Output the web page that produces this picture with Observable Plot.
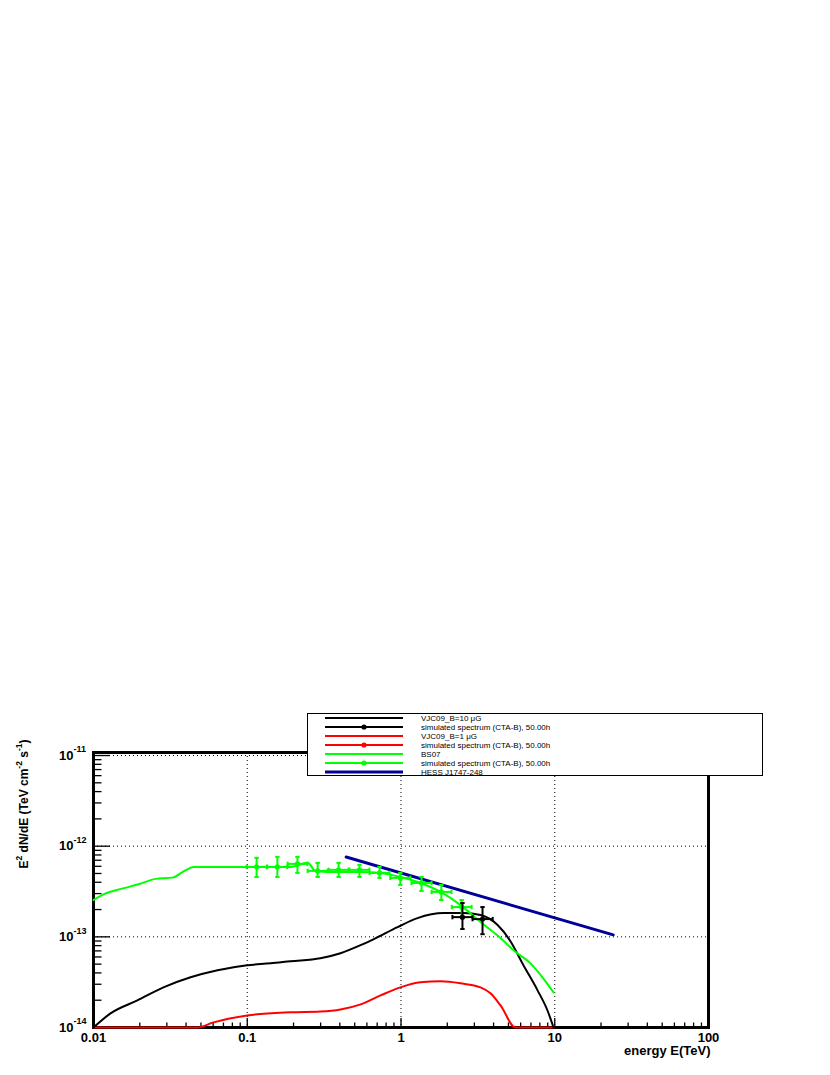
<!DOCTYPE html>
<html>
<head>
<meta charset="utf-8">
<script src="https://cdn.jsdelivr.net/npm/d3@7"></script>
<script src="https://cdn.jsdelivr.net/npm/@observablehq/plot@0.6"></script>
<style>
  html, body { margin: 0; padding: 0; background: white; }
  svg { display: block; }
</style>
</head>
<body>
<script>
// ---------- data ----------
// Model curves: energy (TeV) and E^2 dN/dE (TeV cm^-2 s^-1)
const bs07E = [0.01, 0.0118, 0.0153, 0.0199, 0.0253, 0.0327, 0.0380, 0.0450, 0.1, 0.191, 0.247, 0.278, 0.348, 0.546, 0.736, 0.99, 1.34, 1.81, 2.44, 3.29, 4.44, 5.39, 6.95, 8.32, 9.82];
const bs07F = [2.55e-13, 2.98e-13, 3.40e-13, 3.82e-13, 4.36e-13, 4.50e-13, 5.20e-13, 5.91e-13, 5.91e-13, 5.9e-13, 6.55e-13, 5.34e-13, 5.2e-13, 5.2e-13, 5.07e-13, 4.58e-13, 3.93e-13, 3.13e-13, 2.24e-13, 1.46e-13, 9.7e-14, 7.1e-14, 5.1e-14, 3.58e-14, 2.44e-14];

const b10E = [0.01, 0.0129, 0.0193, 0.0285, 0.0428, 0.0641, 0.1, 0.142, 0.191, 0.299, 0.404, 0.546, 0.662, 0.949, 1.28, 1.89, 2.55, 3.29, 4.25, 5.15, 6.26, 7.73, 8.97, 9.82];
const b10F = [1e-14, 1.43e-14, 1.99e-14, 2.77e-14, 3.58e-14, 4.28e-14, 4.86e-14, 5.1e-14, 5.38e-14, 5.81e-14, 6.6e-14, 8.09e-14, 9.4e-14, 1.28e-13, 1.61e-13, 1.83e-13, 1.83e-13, 1.74e-13, 1.35e-13, 8.96e-14, 4.86e-14, 2.57e-14, 1.54e-14, 1e-14];

const b1E = [0.01, 0.0475, 0.0603, 0.1, 0.191, 0.299, 0.404, 0.546, 0.736, 0.99, 1.34, 1.81, 2.44, 3.29, 3.82, 4.44, 5.56, 9.82];
const b1F = [1e-14, 1e-14, 1.14e-14, 1.36e-14, 1.47e-14, 1.5e-14, 1.58e-14, 1.8e-14, 2.26e-14, 2.77e-14, 3.15e-14, 3.23e-14, 3.07e-14, 2.77e-14, 2.38e-14, 1.75e-14, 1e-14, 1e-14];

const hessE = [0.44, 24];
const hessF = [7.6e-13, 1.05e-13];

// Simulated spectrum (CTA-B, 50h) for BS07
const simGE   = [0.115, 0.157, 0.212, 0.287, 0.393, 0.537, 0.725, 0.99, 1.36, 1.83, 2.48];
const simGElo = [0.099, 0.135, 0.183, 0.247, 0.338, 0.462, 0.624, 0.852, 1.17, 1.58, 2.14];
const simGEhi = [0.134, 0.182, 0.246, 0.333, 0.456, 0.623, 0.841, 1.15, 1.58, 2.13, 2.88];
const simGF   = [5.91e-13, 5.91e-13, 6.38e-13, 5.34e-13, 5.48e-13, 5.48e-13, 5.07e-13, 4.47e-13, 3.93e-13, 3.13e-13, 2.13e-13];
const simGFlo = [4.58e-13, 4.58e-13, 5.07e-13, 4.58e-13, 4.58e-13, 4.58e-13, 4.47e-13, 3.74e-13, 3.21e-13, 2.55e-13, 1.65e-13];
const simGFhi = [7.44e-13, 7.63e-13, 7.63e-13, 6.55e-13, 6.55e-13, 6.22e-13, 5.91e-13, 5.07e-13, 4.58e-13, 3.74e-13, 2.55e-13];

// Simulated spectrum (CTA-B, 50h) for VJC09 B=10 µG
const simKE   = [2.51, 3.39];
const simKElo = [2.16, 2.92];
const simKEhi = [2.92, 3.95];
const simKF   = [1.65e-13, 1.57e-13];
const simKFlo = [1.22e-13, 1.07e-13];
const simKFhi = [2.36e-13, 2.13e-13];

// Axis ticks
const xTicks = [0.01, 0.1, 1, 10, 100];
const xTickLabels = ["0.01", "0.1", "1", "10", "100"];
const xMinor = [0.02,0.03,0.04,0.05,0.06,0.07,0.08,0.09, 0.2,0.3,0.4,0.5,0.6,0.7,0.8,0.9, 2,3,4,5,6,7,8,9, 20,30,40,50,60,70,80,90];
const yTicks = [1e-14, 1e-13, 1e-12, 1e-11];
const yTickExp = ["-14", "-13", "-12", "-11"];
const yMinor = [2e-14,3e-14,4e-14,5e-14,6e-14,7e-14,8e-14,9e-14, 2e-13,3e-13,4e-13,5e-13,6e-13,7e-13,8e-13,9e-13, 2e-12,3e-12,4e-12,5e-12,6e-12,7e-12,8e-12,9e-12];

// Legend
const legendLabels = ["VJC09_B=10 \u03BCG", "simulated spectrum (CTA-B), 50.00h", "VJC09_B=1 \u03BCG", "simulated spectrum (CTA-B), 50.00h", "BS07", "simulated spectrum (CTA-B), 50.00h", "HESS J1747-248"];
const legendColors = ["black", "black", "#ff0000", "#ff0000", "#00ff00", "#00ff00", "#000099"];
const legendMarker = [false, true, false, true, false, true, false];

// ---------- tables ----------
const zip = (xs, ys) => xs.map((x, i) => ({x, y: ys[i]}));
const bs07 = zip(bs07E, bs07F);
const b10 = zip(b10E, b10F);
const b1 = zip(b1E, b1F);
const hess = zip(hessE, hessF);
const simG = simGE.map((e, i) => ({e, elo: simGElo[i], ehi: simGEhi[i], f: simGF[i], flo: simGFlo[i], fhi: simGFhi[i]}));
const simK = simKE.map((e, i) => ({e, elo: simKElo[i], ehi: simKEhi[i], f: simKF[i], flo: simKFlo[i], fhi: simKFhi[i]}));

const W = 830, H = 1075, ML = 93, MR = 122, MT = 752, MB = 48;
const IW = W - ML - MR, IH = H - MT - MB;
const FONT = "'Liberation Sans', Arial, Helvetica, sans-serif";

const hDash = {draw(ctx, size) { const w = 2.2; ctx.moveTo(-w, 0); ctx.lineTo(w, 0); }};
const vDash = {draw(ctx, size) { const w = 2.2; ctx.moveTo(0, -w); ctx.lineTo(0, w); }};

function errorMarks(data, color) {
  return [
    Plot.ruleX(data, {x: "e", y1: "flo", y2: "fhi", stroke: color, strokeWidth: 2}),
    Plot.ruleY(data, {y: "f", x1: "elo", x2: "ehi", stroke: color, strokeWidth: 2}),
    Plot.dot(data, {x: "e", y: "flo", symbol: hDash, r: 2, stroke: color, strokeWidth: 2, fill: "none"}),
    Plot.dot(data, {x: "e", y: "fhi", symbol: hDash, r: 2, stroke: color, strokeWidth: 2, fill: "none"}),
    Plot.dot(data, {x: "elo", y: "f", symbol: vDash, r: 2, stroke: color, strokeWidth: 2, fill: "none"}),
    Plot.dot(data, {x: "ehi", y: "f", symbol: vDash, r: 2, stroke: color, strokeWidth: 2, fill: "none"}),
    Plot.dot(data, {x: "e", y: "f", r: 2.6, fill: color, stroke: "none"})
  ];
}

const plot = Plot.plot({
  width: W, height: H,
  marginLeft: ML, marginRight: MR, marginTop: MT, marginBottom: MB,
  x: {type: "log", domain: [0.01, 100], axis: null},
  y: {type: "log", domain: [1e-14, 1.08e-11], axis: null},
  style: {fontFamily: FONT, background: "white", color: "black"},
  marks: [
    // dotted grid
    Plot.ruleX([0.1, 1, 10], {stroke: "black", strokeWidth: 1, strokeDasharray: "1,3"}),
    Plot.ruleY([1e-13, 1e-12, 1e-11], {stroke: "black", strokeWidth: 1, strokeDasharray: "1,3"}),
    // ticks (inside the frame, left and bottom)
    Plot.ruleY(yTicks, {stroke: "black", strokeWidth: 1.3, insetRight: IW - 17}),
    Plot.ruleY(yMinor, {stroke: "black", strokeWidth: 1.3, insetRight: IW - 8.5}),
    Plot.ruleX(xTicks, {stroke: "black", strokeWidth: 1.3, insetTop: IH - 9}),
    Plot.ruleX(xMinor, {stroke: "black", strokeWidth: 1.3, insetTop: IH - 4.5}),
    Plot.frame({stroke: "black", strokeWidth: 3}),
    // curves
    Plot.line(b1, {x: "x", y: "y", stroke: "#ff0000", strokeWidth: 2, curve: "monotone-x"}),
    Plot.line(b10, {x: "x", y: "y", stroke: "black", strokeWidth: 2, curve: "monotone-x"}),
    Plot.line(bs07, {x: "x", y: "y", stroke: "#00ff00", strokeWidth: 2, curve: "monotone-x"}),
    Plot.line(hess, {x: "x", y: "y", stroke: "#000099", strokeWidth: 3}),
    ...errorMarks(simG, "#00ff00"),
    ...errorMarks(simK, "black"),
    // x tick labels
    Plot.text(xTicks, {x: d => d, frameAnchor: "bottom", dy: 14, text: (d, i) => xTickLabels[i], fontWeight: "bold", fontSize: 13}),
    // y tick labels: base "10" and exponent
    Plot.text(yTicks, {y: d => d, frameAnchor: "left", dx: -20, textAnchor: "end", text: () => "10", fontWeight: "bold", fontSize: 13}),
    Plot.text(yTicks, {y: d => d, frameAnchor: "left", dx: -20, dy: -6, textAnchor: "start", text: (d, i) => yTickExp[i], fontWeight: "bold", fontSize: 9}),
    // x axis title
    Plot.text(["energy E(TeV)"], {frameAnchor: "bottom-right", dx: 2, dy: 27, textAnchor: "end", fontWeight: "bold", fontSize: 13})
  ]
});

document.body.appendChild(plot);

const svg = d3.select(plot);

// y axis title with super-scripts
const yt = svg.append("text")
  .attr("transform", "translate(28,804) rotate(-90)")
  .attr("text-anchor", "middle")
  .attr("font-family", FONT)
  .attr("font-weight", "bold")
  .attr("font-size", 12)
  .attr("fill", "black");
yt.append("tspan").text("E");
yt.append("tspan").attr("dy", -6).attr("font-size", 8.5).text("2");
yt.append("tspan").attr("dy", 6).text(" dN/dE (TeV cm");
yt.append("tspan").attr("dy", -6).attr("font-size", 8.5).text("-2");
yt.append("tspan").attr("dy", 6).text(" s");
yt.append("tspan").attr("dy", -6).attr("font-size", 8.5).text("-1");
yt.append("tspan").attr("dy", 6).text(")");

// legend box
const lg = svg.append("g").attr("font-family", FONT).attr("text-anchor", "start");
lg.append("rect")
  .attr("x", 307.5).attr("y", 713.5).attr("width", 455).attr("height", 62)
  .attr("fill", "white").attr("stroke", "black").attr("stroke-width", 1);
legendLabels.forEach((lab, i) => {
  const y = 718 + i * 9;
  lg.append("line").attr("x1", 325).attr("x2", 403).attr("y1", y).attr("y2", y)
    .attr("stroke", legendColors[i]).attr("stroke-width", i === 6 ? 3 : 2);
  if (legendMarker[i]) {
    lg.append("circle").attr("cx", 364).attr("cy", y).attr("r", 2.6).attr("fill", legendColors[i]);
  }
  lg.append("text").attr("x", 421).attr("y", y).attr("dy", "0.35em")
    .attr("text-anchor", "start")
    .attr("font-size", 8).attr("fill", "black").text(lab);
});
</script>
</body>
</html>
